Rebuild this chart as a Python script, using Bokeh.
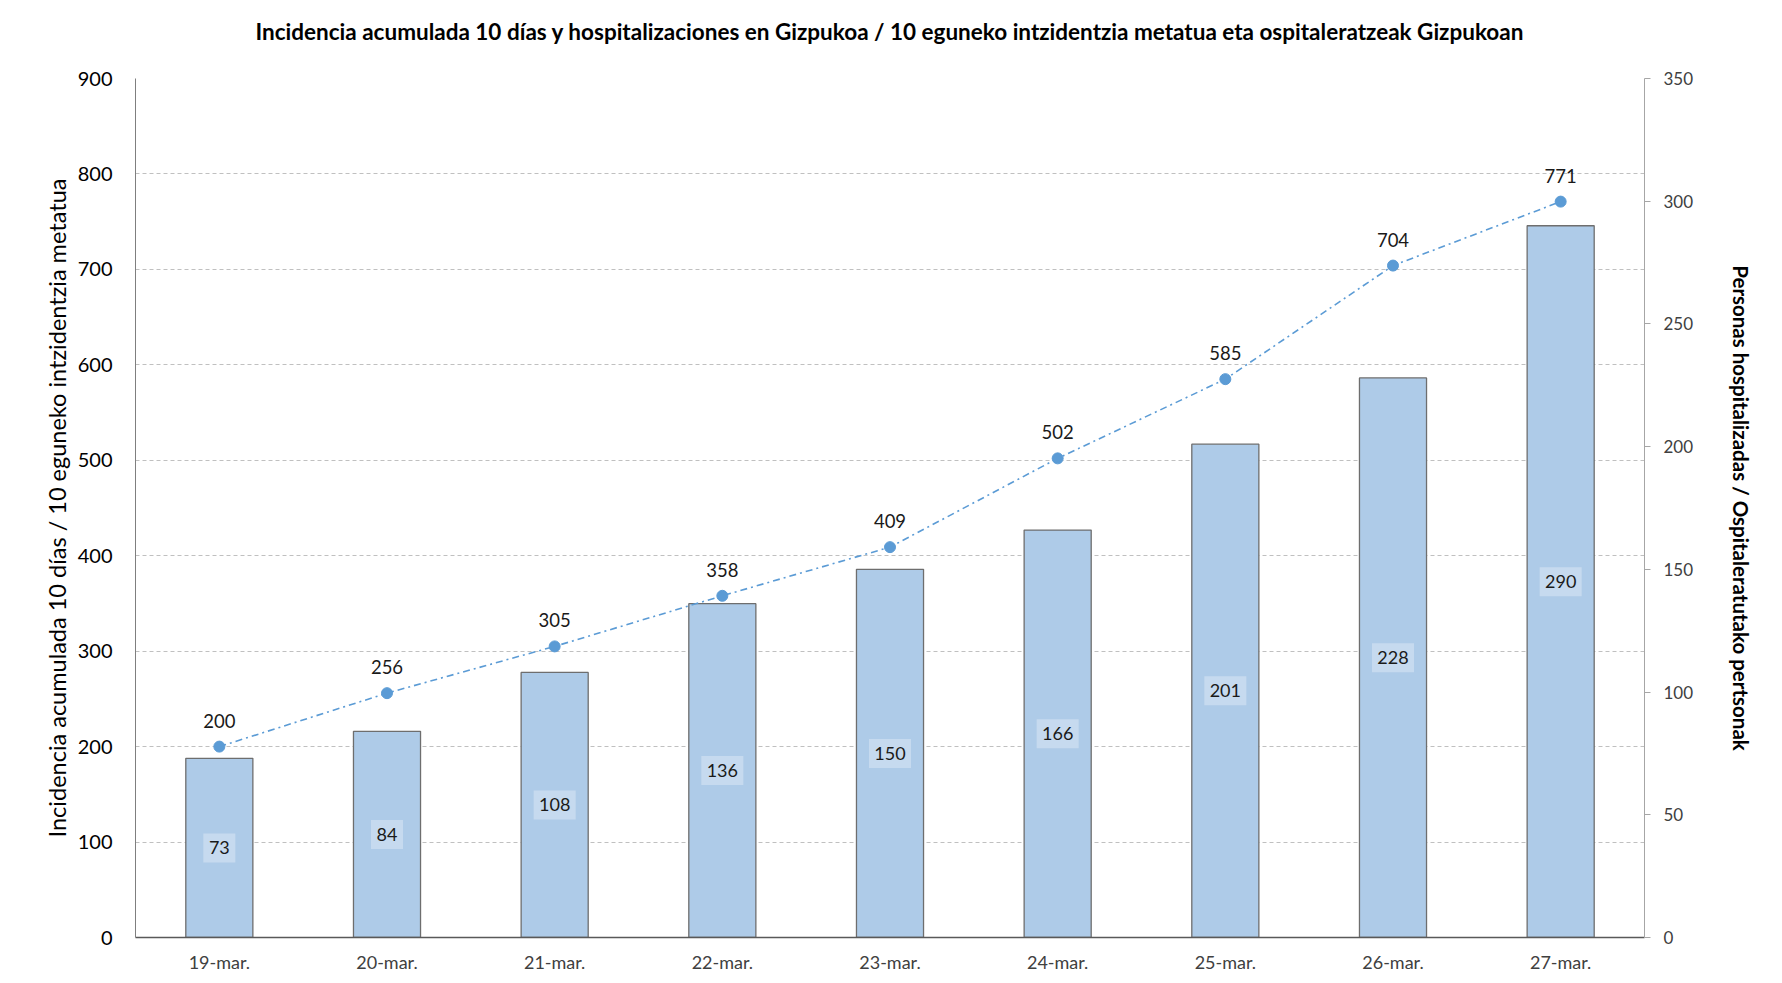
from bokeh.plotting import figure
from bokeh.models import (Range1d, LinearAxis, FactorRange, ColumnDataSource,
                          SingleIntervalTicker, Title)
from bokeh.embed import file_html
from bokeh.resources import INLINE
from bokeh.core.properties import value

dates = ["19-mar.", "20-mar.", "21-mar.", "22-mar.", "23-mar.",
         "24-mar.", "25-mar.", "26-mar.", "27-mar."]
incidence = [200, 256, 305, 358, 409, 502, 585, 704, 771]
hospitalized = [73, 84, 108, 136, 150, 166, 201, 228, 290]

title_text = ("Incidencia acumulada 10 días y hospitalizaciones en Gizpukoa / "
              "10 eguneko intzidentzia metatua eta ospitaleratzeak Gizpukoan")
left_label = "Incidencia acumulada 10 días / 10 eguneko intzidentzia metatua"
right_label = "Personas hospitalizadas / Ospitaleratutako pertsonak"

FONT = "Lato"
BLUE = "#5B9BD5"

src = ColumnDataSource(dict(
    date=dates,
    inc=incidence,
    inc_txt=[str(v) for v in incidence],
    hosp=hospitalized,
    hosp_mid=[v / 2 for v in hospitalized],
    hosp_txt=[str(v) for v in hospitalized],
    box_w=[10 * len(str(v)) + 12 for v in hospitalized],
))

p = figure(x_range=FactorRange(*dates), y_range=Range1d(0, 900),
           width=1766, height=975, output_backend="svg", toolbar_location=None,
           min_border_left=135, min_border_right=122, min_border_top=78,
           min_border_bottom=38)
p.title_location = None
p.extra_y_ranges = {"right": Range1d(0, 350)}

# spacer between frame and title, then the title itself (outermost)
p.add_layout(Title(text=" ", text_font=FONT, text_font_size="12px",
                   standoff=12), "above")
p.add_layout(Title(text=title_text, align="center", text_font=FONT,
                   text_font_size="22.5px", text_font_style="bold",
                   text_color="#000000", standoff=10), "above")

p.outline_line_color = None
p.xgrid.grid_line_color = None
p.ygrid.grid_line_color = "#C0C0C0"
p.ygrid.grid_line_dash = "4 3"
p.ygrid.grid_line_width = 1
p.yaxis.ticker = SingleIntervalTicker(interval=100)

# left axis
ya = p.yaxis[0]
ya.axis_label = left_label
ya.axis_label_text_font = FONT
ya.axis_label_text_font_size = "23.5px"
ya.axis_label_text_font_style = "normal"
ya.axis_label_text_color = "#000000"
ya.axis_label_standoff = 4
ya.major_label_text_font = FONT
ya.major_label_text_font_size = "20px"
ya.major_label_text_color = "#000000"
ya.major_label_standoff = 23
ya.major_tick_out = 0
ya.major_tick_in = 0
ya.minor_tick_out = 0
ya.minor_tick_in = 0
ya.axis_line_color = "#7F7F7F"

# x axis
xa = p.xaxis[0]
xa.major_label_text_font = FONT
xa.major_label_text_font_size = "18px"
xa.major_label_text_color = "#404040"
xa.major_label_standoff = 13
xa.major_tick_out = 0
xa.major_tick_in = 0
xa.axis_line_color = "#595959"
xa.axis_line_width = 1.5

# right axis
ra = LinearAxis(y_range_name="right", ticker=SingleIntervalTicker(interval=50))
ra.axis_label = right_label
ra.axis_label_text_font = FONT
ra.axis_label_text_font_size = "20.5px"
ra.axis_label_text_font_style = "bold"
ra.axis_label_text_color = "#000000"
ra.axis_label_standoff = 33
ra.major_label_text_font = FONT
ra.major_label_text_font_size = "17px"
ra.major_label_text_color = "#404040"
ra.major_label_standoff = 13
ra.major_tick_out = 6
ra.major_tick_in = 0
ra.minor_tick_out = 0
ra.minor_tick_in = 0
ra.axis_line_color = "#A6A6A6"
ra.major_tick_line_color = "#A6A6A6"
p.add_layout(ra, "right")

# bars (hospitalized, right axis)
p.vbar(x="date", top="hosp", width=0.4, source=src, y_range_name="right",
       fill_color="#AECBE8", line_color="#6E6E6E", line_width=1.3)

# bar value labels with translucent boxes
p.rect(x="date", y="hosp_mid", width="box_w", height=29, width_units="screen",
       height_units="screen", source=src, y_range_name="right",
       fill_color="white", fill_alpha=0.3, line_color=None)
p.text(x="date", y="hosp_mid", text="hosp_txt", source=src, y_range_name="right",
       text_align="center", text_baseline="middle", text_font=value(FONT),
       text_font_size="18px", text_color="#1a1a1a")

# incidence line (left axis)
p.line(x="date", y="inc", source=src, line_color=BLUE, line_width=1.6,
       line_dash="7 4 2 4")
p.scatter(x="date", y="inc", source=src, size=11, fill_color=BLUE,
          line_color=BLUE)
p.text(x="date", y="inc", text="inc_txt", source=src, y_offset=-26,
       text_align="center", text_baseline="middle", text_font=value(FONT),
       text_font_size="18.5px", text_color="#1a1a1a")

open("out.html", "w").write(file_html(p, INLINE))
